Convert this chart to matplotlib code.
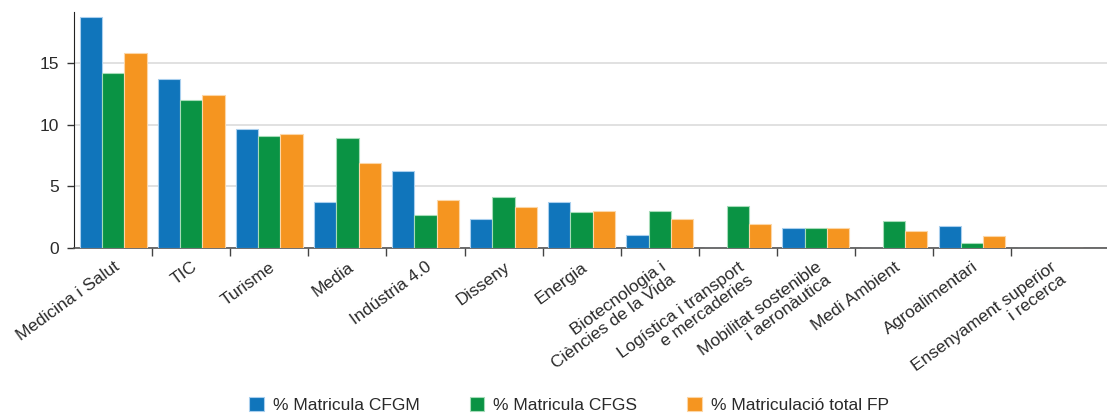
import matplotlib.pyplot as plt
import numpy as np

categories = [
    "Medicina i Salut", "TIC", "Turisme", "Media", "Indústria 4.0", "Disseny",
    "Energia", "Biotecnologia i\nCiències de la Vida", "Logística i transport\ne mercaderies",
    "Mobilitat sostenible\ni aeronàutica", "Medi Ambient", "Agroalimentari",
    "Ensenyament superior\ni recerca",
]
cfgm = [18.7, 13.7, 9.65, 3.75, 6.25, 2.35, 3.75, 1.05, 0.0, 1.6, 0.0, 1.8, 0.0]
cfgs = [14.2, 12.0, 9.1, 8.9, 2.7, 4.1, 2.9, 3.0, 3.4, 1.6, 2.2, 0.4, 0.0]
total_fp = [15.8, 12.4, 9.25, 6.9, 3.9, 3.35, 3.0, 2.35, 1.95, 1.6, 1.4, 0.95, 0.0]
series_names = ["% Matricula CFGM", "% Matricula CFGS", "% Matriculació total FP"]
yticks = [0, 5, 10, 15]

plt.rcParams["font.family"] = ["Liberation Sans", "DejaVu Sans"]

fig = plt.figure(figsize=(11.07, 4.17), dpi=100)
ax = fig.add_axes([0.067, 0.405, 0.933, 0.566])

colors = ["#1075bb", "#0a9344", "#f59520"]
edges = ["#a9cfee", "#a6dcb9", "#fcd6a6"]
x = np.arange(len(categories))
w = 0.285
for i, (vals, name) in enumerate(zip([cfgm, cfgs, total_fp], series_names)):
    ax.bar(x + (i - 1) * w, vals, width=w, color=colors[i], edgecolor=edges[i],
           linewidth=0.8, label=name, zorder=3)

ax.set_xlim(-0.5, 12.73)
ax.set_ylim(0, 19.1)
ax.set_yticks(yticks)
ax.yaxis.grid(True, color="#dcdcdc", linewidth=1.2, zorder=0)
ax.tick_params(axis="y", length=5, width=1, color="#333333", labelsize=12.5,
               labelcolor="#2a2a2a", pad=6)

# category boundary ticks, labels at centres
ax.set_xticks(x[:-1] + 0.5)
ax.set_xticklabels([])
ax.tick_params(axis="x", which="major", length=5.5, width=1, color="#444444")
ax.set_xticks(x, minor=True)
ax.set_xticklabels(categories, minor=True, rotation=36, ha="right",
                   rotation_mode="anchor", fontsize=12.5, color="#2a2a2a",
                   linespacing=1.1)
ax.tick_params(axis="x", which="minor", length=0, pad=8)

for s in ["top", "right"]:
    ax.spines[s].set_visible(False)
ax.spines["left"].set_color("#222222")
ax.spines["bottom"].set_color("#555555")
ax.spines["bottom"].set_linewidth(1.2)

fig.legend(loc="center", bbox_to_anchor=(0.514, 0.029), ncol=3, frameon=False,
           fontsize=12.5, handlelength=0.85, handleheight=0.85, columnspacing=2.9,
           handletextpad=0.5, labelcolor="#2a2a2a")

fig.savefig("out.png", dpi=100)
